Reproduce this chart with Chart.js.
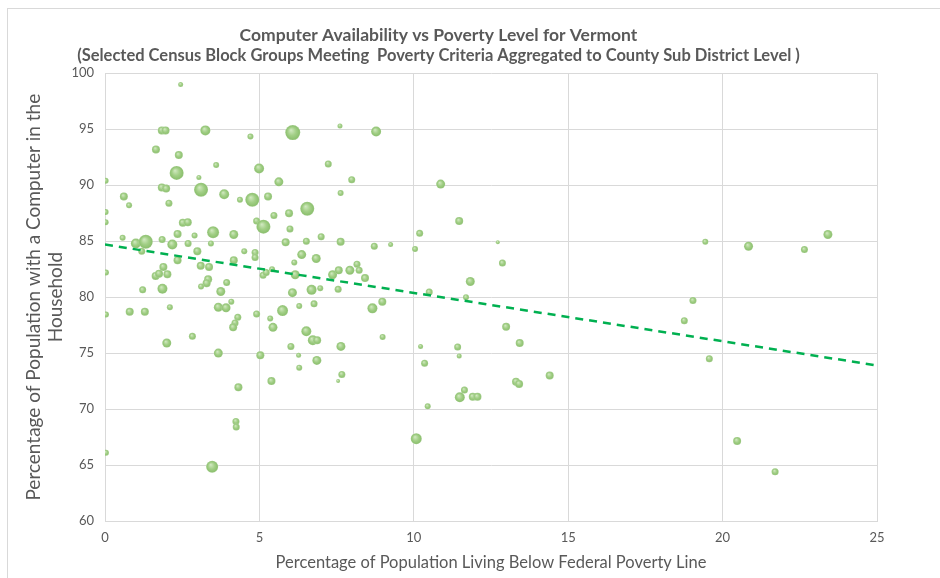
<!DOCTYPE html>
<html>
<head>
<meta charset="utf-8">
<script src="https://cdn.jsdelivr.net/npm/chart.js@4.4.1/dist/chart.umd.min.js"></script>
<style>
  html, body { margin: 0; padding: 0; background: #fff; }
  #wrap { width: 940px; height: 578px; }
</style>
</head>
<body>
<div id="wrap"><canvas id="chart" width="940" height="578"></canvas></div>
<script>
// poverty % (x), computer % (y), bubble size
const povertyPct = [
  2.45, 1.84, 1.96, 3.25, 4.71, 6.08, 7.61, 8.78, 1.65, 2.39,
  3.60, 4.99, 2.32, 3.04, 0.02, 5.63, 7.23, 7.99, 10.87, 1.84,
  1.98, 3.11, 3.86, 0.61, 4.37, 4.77, 5.28, 7.63, 0.78, 2.07,
  0.02, 5.47, 5.96, 6.55, 0.02, 2.52, 2.68, 4.91, 5.13, 11.47,
  5.99, 0.57, 1.00, 1.32, 1.19, 1.85, 2.35, 2.18, 2.90, 2.69,
  3.50, 3.43, 4.17, 2.99, 2.35, 0.03, 1.64, 1.75, 1.89, 2.02,
  1.22, 1.86, 3.10, 3.37, 3.34, 3.29, 3.11, 3.94, 3.75, 4.17,
  4.51, 4.86, 4.86, 5.12, 5.22, 5.41, 5.85, 0.03, 0.80, 1.29,
  2.10, 3.67, 3.92, 4.09, 4.30, 4.21, 4.15, 4.91, 5.35, 5.75,
  5.44, 2.00, 2.83, 3.67, 5.03, 4.32, 5.39, 4.24, 4.25, 0.03,
  3.47, 6.52, 7.00, 7.63, 8.72, 9.25, 10.04, 10.19, 6.37, 6.13,
  6.84, 6.16, 6.07, 6.69, 6.97, 6.29, 6.77, 7.37, 7.57, 7.55,
  7.93, 8.16, 8.23, 8.42, 8.98, 8.66, 10.50, 11.69, 11.83, 6.52,
  6.73, 6.87, 6.02, 7.64, 8.99, 6.27, 6.86, 6.29, 10.22, 11.42,
  11.47, 10.35, 7.67, 7.55, 11.64, 11.49, 11.91, 12.06, 10.45, 10.08,
  12.72, 12.87, 12.99, 13.43, 14.40, 13.31, 13.41, 19.44, 20.84, 22.65,
  23.41, 19.04, 18.76, 19.57, 20.47, 21.70
];
const computerPct = [
  99.0, 94.9, 94.9, 94.9, 94.35, 94.7, 95.3, 94.8, 93.2, 92.7,
  91.8, 91.5, 91.1, 90.7, 90.4, 90.3, 91.9, 90.5, 90.1, 89.8,
  89.7, 89.6, 89.2, 89.0, 88.7, 88.7, 89.0, 89.3, 88.2, 88.4,
  87.6, 87.3, 87.5, 87.9, 86.7, 86.65, 86.7, 86.8, 86.3, 86.8,
  86.1, 85.3, 84.8, 84.95, 84.1, 85.15, 85.65, 84.7, 85.5, 84.8,
  85.8, 84.8, 85.6, 84.1, 83.3, 82.2, 81.9, 82.1, 82.7, 82.05,
  80.65, 80.75, 82.8, 82.7, 81.6, 81.25, 80.95, 81.3, 80.5, 83.3,
  84.1, 84.0, 83.55, 81.95, 82.2, 82.5, 84.9, 78.45, 78.7, 78.7,
  79.1, 79.1, 79.05, 79.6, 78.2, 77.7, 77.3, 78.5, 78.1, 78.8,
  77.3, 75.9, 76.5, 75.0, 74.8, 71.95, 72.5, 68.9, 68.4, 66.1,
  64.85, 85.0, 85.4, 84.95, 84.55, 84.7, 84.3, 85.7, 83.8, 83.1,
  83.45, 82.0, 80.4, 80.65, 80.8, 79.2, 79.4, 82.0, 82.4, 80.7,
  82.4, 82.95, 82.4, 81.7, 79.6, 79.0, 80.45, 80.0, 81.4, 76.95,
  76.15, 76.15, 75.6, 75.6, 76.45, 74.8, 74.35, 73.7, 75.6, 75.55,
  74.75, 74.1, 73.1, 72.5, 71.7, 71.05, 71.1, 71.1, 70.25, 67.35,
  84.9, 83.05, 77.35, 75.9, 73.0, 72.45, 72.25, 84.95, 84.55, 84.25,
  85.6, 79.7, 77.9, 74.5, 67.15, 64.4
];
const bubbleSize = [
  2.5, 4, 4, 5, 3, 7.5, 2.5, 5, 4, 4,
  3, 5, 7, 2.5, 3, 4.5, 3.5, 3.5, 4.5, 4,
  4, 7, 5, 4, 3, 7, 4, 3, 3, 3.5,
  3, 3.5, 4, 7, 3, 4, 4, 3.5, 7, 4,
  3.5, 3, 5, 7, 3.5, 3.5, 4, 5, 3, 3.5,
  6, 3, 4.5, 4, 4, 3, 4, 4, 4, 4,
  3.5, 5, 4, 4, 4, 4, 3, 3.5, 4.5, 4,
  3, 3.5, 3.5, 3.5, 3.5, 3, 4, 3, 4, 4,
  3, 4.5, 4.5, 3, 3.5, 3.5, 4, 3.5, 3, 5.5,
  4.5, 4.5, 3.5, 4.5, 4, 4, 4, 3.5, 3.5, 3,
  6, 3.5, 3.5, 4, 3.5, 2.5, 3, 3.5, 4.5, 3,
  4.5, 4.5, 4.5, 5, 3, 3, 3.5, 4.5, 4, 3.5,
  4.5, 3.5, 3.5, 4, 4, 5, 3.5, 3, 4.5, 5,
  5, 4, 3.5, 4.5, 3, 2.5, 4.5, 3, 2.5, 3.5,
  2.5, 3.5, 3.5, 2, 3.5, 5, 4, 4, 3, 5.5,
  2, 3.5, 4, 4, 4, 4, 4, 3, 4.5, 3.5,
  4.5, 3.5, 3.5, 3.5, 4, 3.5
];
// linear trend line end points
const trendX = [0, 25];
const trendY = [84.7, 73.9];
const xTicks = [0, 5, 10, 15, 20, 25];
const yTicks = [60, 65, 70, 75, 80, 85, 90, 95, 100];

const FONT = "Lato, 'DejaVu Sans Condensed', sans-serif";
const GREY = '#595959';

const points = povertyPct.map((x, i) => ({ x, y: computerPct[i], r: bubbleSize[i] }));

function bubbleFill(ctx) {
  const flat = '#a3d08a';
  if (ctx.type !== 'data') return flat;
  const { chart, raw } = ctx;
  const xs = chart.scales.x, ys = chart.scales.y;
  if (!xs || !ys) return flat;
  const px = xs.getPixelForValue(raw.x);
  const py = ys.getPixelForValue(raw.y);
  const r = raw.r;
  if (!Number.isFinite(px) || !Number.isFinite(py)) return flat;
  const g = chart.ctx.createRadialGradient(px - r * 0.25, py - r * 0.35, 0, px, py, r);
  g.addColorStop(0, '#d3eac3');
  g.addColorStop(0.55, '#a2cf86');
  g.addColorStop(1, '#88bd6a');
  return g;
}

const frame = {
  id: 'frame',
  beforeDraw(chart) {
    const c = chart.ctx;
    c.save();
    c.fillStyle = '#fff';
    c.fillRect(0, 0, chart.width, chart.height);
    c.strokeStyle = '#d9d9d9';
    c.lineWidth = 1;
    c.strokeRect(7.5, 8.5, chart.width + 10, chart.height + 10);
    c.restore();
  }
};

new Chart(document.getElementById('chart'), {
  type: 'bubble',
  data: {
    datasets: [
      {
        type: 'line',
        data: trendX.map((x, i) => ({ x, y: trendY[i] })),
        borderColor: '#00b050',
        borderWidth: 2.5,
        borderDash: [8, 6],
        pointRadius: 0,
        fill: false,
        order: 0,
      },
      {
        data: points,
        backgroundColor: bubbleFill,
        borderColor: 'rgba(255,255,255,0.35)',
        borderWidth: 0.5,
        order: 1,
      },
    ],
  },
  options: {
    responsive: false,
    animation: false,
    layout: { padding: { left: 0, right: 63, top: 0, bottom: 0 } },
    plugins: {
      legend: { display: false },
      tooltip: { enabled: false },
      title: {
        display: true,
        text: 'Computer Availability vs Poverty Level for Vermont',
        color: GREY,
        font: { family: FONT, size: 17.5, weight: 'bold', lineHeight: 1.2 },
        padding: { top: 25, bottom: 0 },
      },
      subtitle: {
        display: true,
        text: '(Selected Census Block Groups Meeting  Poverty Criteria Aggregated to County Sub District Level )',
        color: GREY,
        font: { family: FONT, size: 16.5, weight: 'bold', lineHeight: 1.2 },
        padding: { top: 0, bottom: 7.5 },
      },
    },
    scales: {
      x: {
        type: 'linear',
        min: 0,
        max: 25,
        afterBuildTicks: (s) => { s.ticks = xTicks.map((v) => ({ value: v })); },
        afterFit: (s) => { s.height = 57; },
        ticks: { color: GREY, font: { family: FONT, size: 13 }, padding: 9 },
        grid: { color: '#d9d9d9', drawTicks: false },
        border: { color: '#d9d9d9' },
        title: {
          display: true,
          text: 'Percentage of Population Living Below Federal Poverty Line',
          color: GREY,
          font: { family: FONT, size: 16.5 },
          padding: { top: 0, bottom: 5 },
        },
      },
      y: {
        type: 'linear',
        min: 60,
        max: 100,
        afterBuildTicks: (s) => { s.ticks = yTicks.map((v) => ({ value: v })); },
        afterFit: (s) => { s.width = 105; },
        ticks: { color: GREY, font: { family: FONT, size: 13 }, padding: 11 },
        grid: { color: '#d9d9d9', drawTicks: false },
        border: { color: '#d9d9d9' },
        title: {
          display: true,
          text: ['Percentage of Population with a Computer in the', 'Household'],
          color: GREY,
          font: { family: FONT, size: 19, lineHeight: 1.15 },
          padding: { top: 23, bottom: 0 },
        },
      },
    },
  },
  plugins: [frame],
});
</script>
</body>
</html>
